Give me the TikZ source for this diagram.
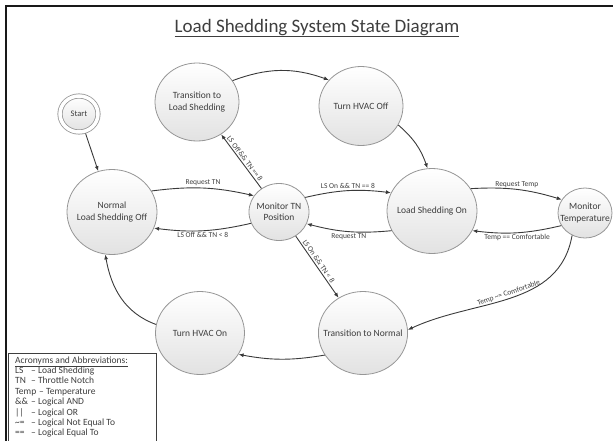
\documentclass[tikz,border=0pt]{standalone}
\usepackage{fontspec}
\setmainfont{Carlito}
\usetikzlibrary{arrows.meta,shapes.geometric}
\definecolor{ringline}{RGB}{150,150,150}
\definecolor{ringfill}{RGB}{226,226,226}
\definecolor{arcline}{RGB}{58,58,58}
\definecolor{inkgray}{RGB}{62,62,62}
\definecolor{frameink}{RGB}{25,25,25}

\begin{document}
\begin{tikzpicture}[x=1pt, y=-1pt,
  state/.style={ellipse, draw=ringline, line width=0.8pt, top color=white,
                bottom color=ringfill, inner sep=-8pt, align=center,
                text=inkgray, font=\fontsize{9.5}{11.5}\selectfont},
  startring/.style={state, double=white, double distance=3.5pt,
                    minimum width=38pt, minimum height=36pt, outer sep=2.5pt,
                    font=\fontsize{8.5}{10}\selectfont},
  trans/.style={draw=arcline, line width=0.9pt, -{Latex[length=5pt,width=4pt]}},
  cond/.style={text=inkgray, font=\fontsize{7.5}{9}\selectfont, inner sep=1.5pt},
  abbr/.style={anchor=base west, text=inkgray, inner sep=0pt,
               font=\fontsize{9.5}{11}\selectfont},
  heading/.style={anchor=base, text=inkgray, inner sep=0pt,
                  font=\fontsize{19}{22}\selectfont},
]
\useasboundingbox (0,0) rectangle (613,440);
\clip (0,0) rectangle (613,440);
\draw[frameink, line width=1.8pt] (6,6) rectangle (700,500);

% ---- Title ----
\node[heading] (title) at (317,32) {\underline{Load Shedding System State Diagram}};

% ---- States ----
\node[startring] (start) at (79,114) {Start};
\node[state, minimum width=90pt, minimum height=85pt] (normal) at (112,212) {Normal\\Load Shedding Off};
\node[state, minimum width=60pt, minimum height=57pt] (mon)    at (279,212) {Monitor TN\\Position};
\node[state, minimum width=90pt, minimum height=85pt] (lson)   at (432,211) {Load Shedding On};
\node[state, minimum width=54pt, minimum height=50pt] (mtemp)  at (585,213) {Monitor\\Temperature};
\node[state, minimum width=84pt, minimum height=78pt] (tls)    at (197,102) {Transition to\\Load Shedding};
\node[state, minimum width=84pt, minimum height=79pt] (hoff)   at (361,106) {Turn HVAC Off};
\node[state, minimum width=89pt, minimum height=83pt] (hon)    at (200,333) {Turn HVAC On};
\node[state, minimum width=89pt, minimum height=83pt] (tnorm)  at (363,333) {Transition to Normal};

% ---- Transitions ----
\draw[trans] (start) -- (normal);
\draw[trans] (normal.28) to[bend left=10] node[cond, above] {Request TN} (mon.147);
\draw[trans] (mon.202) to[bend left=10] node[cond, below] {LS Off \&\& TN < 8} (normal.-21);
\draw[trans] (mon) -- node[cond, sloped, above] {LS Off \&\& TN == 8} (tls);
\draw[trans] (tls.31) to[bend left=20] (hoff.141);
\draw[trans] (hoff.-27) to[bend left=15] (lson.96);
\draw[trans] (mon.29) to[bend left=10] node[cond, above] {LS On \&\& TN == 8} (lson.156);
\draw[trans] (lson.206) to[bend left=10] node[cond, below] {Request TN} (mon.-23);
\draw[trans] (lson.30) to[bend left=10] node[cond, above] {Request Temp} (mtemp.150);
\draw[trans] (mtemp.208) to[bend left=10] node[cond, below] {Temp == Comfortable} (lson.-26);
\draw[trans] (mon) -- node[cond, sloped, above, pos=0.45] {LS On \&\& TN < 8} (tnorm);
\draw[trans] (mtemp.-120) to[out=-100, in=25] node[cond, sloped, above] {Temp \textasciitilde= Comfortable} (tnorm.4);
\draw[trans] (tnorm.210) to[bend left=10] (hon.-29);
\draw[trans] (hon.169) to[out=160, in=-80] (normal.-99);

% ---- Acronym box ----
\draw[draw=inkgray, line width=0.6pt] (8,353) rectangle (156,470);
\node[abbr] (acr) at (15,363) {\underline{Acronyms and Abbreviations:}};
\foreach \ab/\w/\tx [count=\i] in {LS/16pt/Load Shedding, TN/16pt/Throttle Notch,
    Temp/24pt/Temperature, \&\&/16pt/Logical AND, ||/16pt/Logical OR,
    \textasciitilde=/16pt/Logical Not Equal To, ==/16pt/Logical Equal To}
  \node[abbr] (acr\i) at (15,363+10.4*\i) {\makebox[\w][l]{\ab}-- \tx};
\end{tikzpicture}
\end{document}
